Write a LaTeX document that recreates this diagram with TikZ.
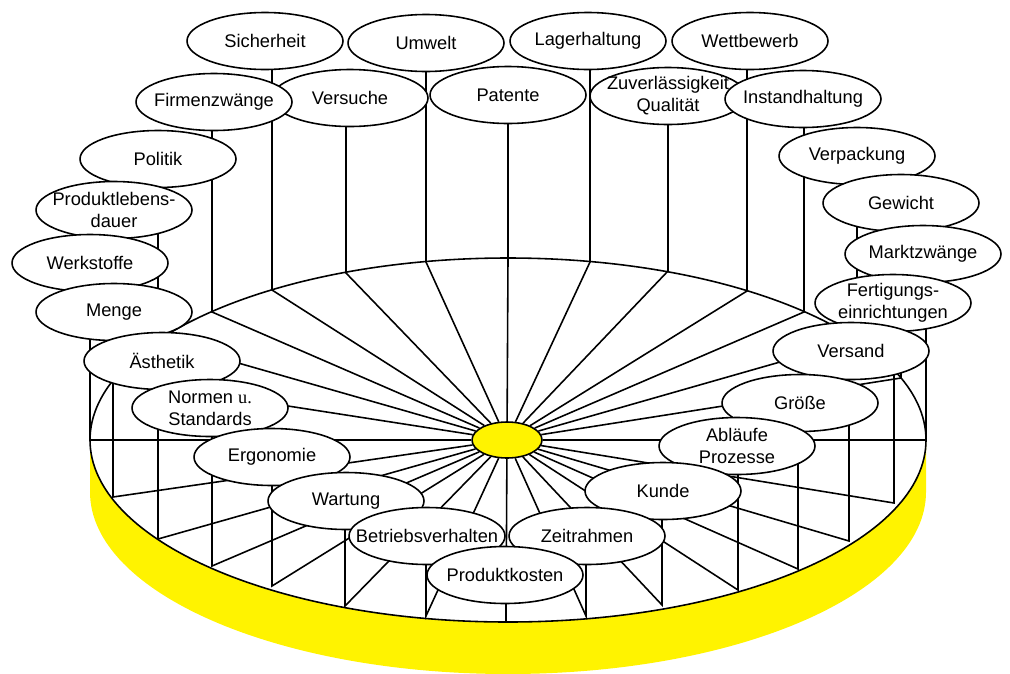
\documentclass[tikz,border=0pt]{standalone}
\usepackage{fontspec}
\setmainfont{Liberation Sans}
\newfontfamily\romfont{Liberation Serif}
\usetikzlibrary{shapes.geometric,backgrounds}
\definecolor{rimyellow}{RGB}{255,243,0}
\tikzset{
  tag/.style={ellipse, draw, fill=white, minimum width=3.12cm, minimum height=1.14cm, inner sep=0pt},
  every label/.style={align=center, font=\fontsize{10.4}{12.5}\selectfont, inner sep=0pt},
  every on background layer/.style={line width=0.9pt},
}

\begin{document}
\begin{tikzpicture}[x=0.02cm, y=-0.02cm, line width=0.9pt]
  \useasboundingbox (0,0) rectangle (1010,673);
  % hub in the middle of the disc
  \node[ellipse, draw, fill=rimyellow, minimum width=1.4cm, minimum height=0.72cm] (hub) at (507,440) {};
  % labels, from back to front
  \foreach \n/\x/\y/\txt in {sich/265/41/Sicherheit, umw/426/43/Umwelt,
      lager/588/41/Lagerhaltung, wett/750/41/Wettbewerb, pat/508/95/Patente,
      zuv/668/96/{Zuverlässigkeit\\Qualität}, vers/350/98/Versuche,
      inst/803/99/Instandhaltung, firm/214/102/Firmenzwänge,
      verp/857/156/Verpackung, pol/158/159/Politik, gew/901/203/Gewicht,
      plb/114/210/{Produktlebens-\\dauer}, markt/923/254/Marktzwänge,
      werk/90/263/Werkstoffe, fert/893/303/{Fertigungs-\\einrichtungen},
      menge/114/312/Menge, versand/851/351/Versand, aest/162/361/Ästhetik,
      groesse/800/403/Größe, normen/210/408/{Normen {\romfont u.}\\Standards},
      abl/737/446/{Abläufe\\Prozesse}, ergo/272/457/Ergonomie,
      kunde/663/491/Kunde, wart/346/501/Wartung,
      betr/427/536/Betriebsverhalten, zeit/587/536/Zeitrahmen,
      kost/505/575/Produktkosten}
    \node[tag, label={center:\txt}] (\n) at (\x,\y) {};
  % where the stems meet the rim
  \foreach \n/\x/\y in {sich/272/290, umw/426/262, lager/590/262, wett/747/291,
      pat/508/258, zuv/668/271, vers/346/273, inst/804/312, firm/212/312,
      verp/857/340, pol/158/340, gew/901/378, plb/114/379, markt/926/440,
      werk/90/440, fert/894/503, menge/113/497, versand/849/541, aest/158/539,
      groesse/798/569, normen/212/566, abl/738/590, ergo/272/586,
      kunde/662/605, wart/345/606, betr/426/616, zeit/586/616, kost/506/621}
    \coordinate (r-\n) at (\x,\y);
  \begin{scope}[on background layer]
    % yellow edge of the disc
    \fill[rimyellow] (90,440) -- (90,492)
      arc[start angle=180, end angle=0, x radius=418, y radius=182]
      -- (926,440) arc[start angle=0, end angle=180, x radius=418, y radius=182] -- cycle;
    \draw[fill=white] (508,440) ellipse [x radius=418, y radius=182];
    % spokes and stems
    \foreach \n in {sich, umw, lager, wett, pat, zuv, vers, inst, firm, verp,
        pol, gew, plb, markt, werk, fert, menge, versand, aest, groesse,
        normen, abl, ergo, kunde, wart, betr, zeit, kost}
      \draw (hub) -- (r-\n) -- (r-\n |- \n);
  \end{scope}
\end{tikzpicture}
\end{document}
